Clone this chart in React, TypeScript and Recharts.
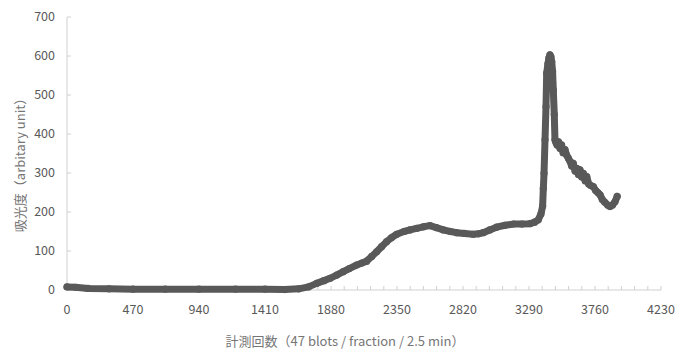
import React from "react";
import { ScatterChart, Scatter, XAxis, YAxis, Label } from "recharts";

// 計測回数 (x) と 吸光度 (y)
const counts = [
  0, 60, 150, 300, 470, 700, 940, 1200, 1410, 1550, 1650, 1720, 1778, 1830, 1873, 1920, 1967, 2010, 2063,
  2100, 2134, 2170, 2205, 2240, 2276, 2310, 2348, 2400, 2442, 2490, 2537, 2585, 2630, 2680, 2730, 2775,
  2830, 2893, 2930, 2964, 3010, 3059, 3120, 3178, 3240, 3297, 3330, 3356, 3375, 3387, 3392, 3397, 3404,
  3411, 3416, 3425, 3432, 3439, 3446, 3452, 3458, 3463, 3470, 3475, 3482, 3490, 3500, 3511, 3522, 3533,
  3546, 3558, 3570, 3582, 3594, 3605, 3618, 3630, 3642, 3653, 3665, 3677, 3690, 3701, 3715, 3730, 3748,
  3765, 3780, 3796, 3812, 3830, 3850, 3867, 3885, 3902, 3918,
];
const absorbance = [
  8, 7, 4, 3, 2, 2, 2, 2, 2, 1, 3, 8, 17, 24, 30, 38, 47, 55, 64,
  69, 74, 86, 98, 111, 124, 134, 143, 150, 154, 158, 162, 165, 160, 154, 150, 147,
  145, 143, 144, 147, 154, 161, 166, 169, 169, 170, 174, 180, 195, 215, 260, 299, 385,
  470, 556, 580, 595, 603, 598, 585, 560, 513, 450, 385, 378, 372, 380, 363, 372, 352,
  360, 346, 338, 330, 318, 325, 305, 312, 296, 308, 290, 299, 280, 291, 272, 268, 265,
  255, 250, 244, 232, 225, 218, 214, 218, 226, 240,
];

const xMajorTicks = [0, 470, 940, 1410, 1880, 2350, 2820, 3290, 3760, 4230];
const yTicks = [0, 100, 200, 300, 400, 500, 600, 700];

const xTicks = xMajorTicks.flatMap((t, i) =>
  i === xMajorTicks.length - 1 ? [t] : [0, 1, 2, 3, 4].map((k) => t + (k * 470) / 5)
);

const data = counts.map((c, i) => ({ x: c, y: absorbance[i] }));

const font = "'Noto Sans CJK JP', 'Noto Sans', sans-serif";
const dotColor = "#595959";
const titleStyle = { fill: "#767676", fontSize: 13, fontFamily: font };

export default function App() {
  return (
    <div style={{ position: "absolute", left: 0, top: 0, background: "#fff" }}>
      <ScatterChart width={675} height={350} margin={{ top: 17, right: 14, bottom: 15, left: 27 }}>
        <XAxis
          type="number"
          dataKey="x"
          domain={[0, 4230]}
          ticks={xTicks}
          interval={0}
          tickFormatter={(v: number) => (xMajorTicks.includes(v) ? String(v) : "")}
          axisLine={{ stroke: "#d0d0d0" }}
          tickLine={{ stroke: "#d0d0d0" }}
          tickSize={-4}
          tickMargin={19}
          height={45}
          tick={{ fill: "#595959", fontSize: 12.5, fontFamily: font }}
        >
          <Label
            content={() => (
              <text x={345} y={340} textAnchor="middle" dominantBaseline="central" style={titleStyle}>
                計測回数（47 blots / fraction / 2.5 min）
              </text>
            )}
          />
        </XAxis>
        <YAxis
          type="number"
          dataKey="y"
          domain={[0, 700]}
          ticks={yTicks}
          interval={0}
          axisLine={{ stroke: "#d0d0d0" }}
          tickLine={{ stroke: "#d0d0d0" }}
          tickSize={-4}
          tickMargin={16}
          width={40}
          tick={{ fill: "#595959", fontSize: 12.5, fontFamily: font }}
        >
          <Label
            content={() => (
              <text
                x={19}
                y={162}
                transform="rotate(-90 19 162)"
                textAnchor="middle"
                dominantBaseline="central"
                style={titleStyle}
              >
                吸光度（arbitary unit）
              </text>
            )}
          />
        </YAxis>
        <Scatter
          data={data}
          fill={dotColor}
          isAnimationActive={false}
          line={{ stroke: dotColor, strokeWidth: 7, strokeLinejoin: "round", strokeLinecap: "round" }}
          lineJointType="linear"
          shape={(p: any) => <circle cx={p.cx} cy={p.cy} r={3.6} fill={dotColor} />}
        />
      </ScatterChart>
    </div>
  );
}
